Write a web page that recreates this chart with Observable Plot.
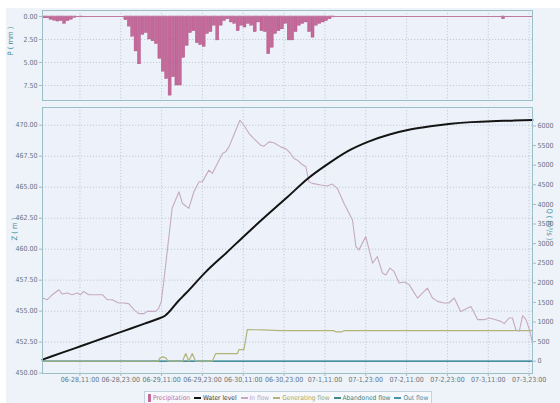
<!DOCTYPE html>
<html><head><meta charset="utf-8">
<script src="https://cdn.jsdelivr.net/npm/d3@7"></script>
<script src="https://cdn.jsdelivr.net/npm/@observablehq/plot@0.6"></script>
<style>
html,body{margin:0;padding:0;background:#fff;}
body{width:560px;height:403px;overflow:hidden;position:relative;font-family:"Liberation Sans Narrow","DejaVu Sans Condensed",sans-serif;}
#bg{position:absolute;left:6px;top:8px;width:554px;height:395px;background:#eef3f9;}
#topc{position:absolute;left:0;top:0;}
#botc{position:absolute;left:0;top:104px;}
#legend{position:absolute;left:144px;top:391px;height:14px;padding:0 3px;border:1px solid #c3d2dc;background:#f6f8fb;
  display:flex;align-items:center;font-size:6.6px;white-space:nowrap;box-sizing:border-box;}
#legend .it{display:flex;align-items:center;margin-right:4px;}
#legend .ln{display:inline-block;width:7px;height:2px;margin-right:2px;}
#legend .bx{display:inline-block;width:3px;height:8px;margin-right:2px;}
</style></head>
<body>
<div id="bg"></div>
<div id="topc"></div>
<div id="botc"></div>
<div id="legend"></div>
<script>
// ---------- data ----------
const xTickLabels = ["06-28,11:00","06-28,23:00","06-29,11:00","06-29,23:00","06-30,11:00","06-30,23:00",
  "07-1,11:00","07-1,23:00","07-2,11:00","07-2,23:00","07-3,11:00","07-3,23:00"];
const pTicks = [0, 2.5, 5, 7.5];
const zTicks = [450, 452.5, 455, 457.5, 460, 462.5, 465, 467.5, 470];
const qTicks = [0,500,1000,1500,2000,2500,3000,3500,4000,4500,5000,5500,6000];

// hours after 06-28 00:00
const precipHour = [0,1,2,3,4,5,6,7,8,9,11,
  24,25,26,27,28,29,30,31,32,33,34,35,36,37,38,39,40,41,42,43,44,45,46,47,48,49,50,51,52,53,54,
  55,56,57,58,59,60,61,62,63,64,65,66,67,68,69,70,71,72,73,74,75,76,77,78,79,80,81,82,83,84,85,135];
const precipMm = [0.2,0.2,0.35,0.45,0.55,0.5,0.8,0.5,0.35,0.15,0.1,
  0.4,1.1,2.2,3.8,5.2,2.0,1.8,2.5,2.7,3.0,4.6,6.0,6.8,8.6,6.6,7.5,7.5,4.5,3.2,1.8,1.6,2.9,3.1,3.3,1.9,1.7,1.0,2.6,1.0,0.5,0.3,
  0.65,0.8,1.6,1.0,1.2,0.8,1.0,1.7,0.65,1.6,1.7,4.1,3.4,1.9,1.6,1.4,0.8,2.6,2.6,1.7,1.0,0.8,0.65,1.7,2.3,1.0,0.8,0.65,0.5,0.3,0.1,0.3];

const levelHour = [0,6,12,18,24,30,34,36,40,42,48,54,60,66,72,78,84,90,96,102,108,114,120,126,132,138,144];
const levelM = [451.09,451.67,452.25,452.83,453.41,453.99,454.39,454.63,455.84,456.40,458.17,459.70,461.25,462.75,464.21,465.70,466.90,467.95,468.70,469.25,469.65,469.92,470.12,470.25,470.33,470.37,470.42];

const inflowHour = [0,1.4,2.9,4.8,5.8,7.3,8.7,10.2,11.2,12.1,13.6,17.6,19,20.5,22.4,23.9,25.3,26.9,28.3,29.8,30.8,33.2,34.2,34.9,35.7,36.7,38.1,40.1,41.1,43,44.5,46,47,48.9,49.9,51.4,52.9,53.8,54.8,56.8,58,59.2,60.7,62.1,64.1,65.1,66.6,68,70,71.5,72.9,73.9,74.9,75.9,77.4,78.3,79.3,81.8,83.7,85.2,86.7,88.6,91.1,92.1,93,95,97,98.4,99.9,100.9,102.1,103.3,104.8,106.3,107.7,110.2,113.1,114.6,116.1,118,119.4,121,122.9,125.9,127.9,129.8,131.3,133.2,134.7,135.7,137.1,138.1,139.1,140.1,141.1,142.1,143.1,144];
const inflowQ = [1612,1569,1696,1823,1713,1739,1696,1739,1696,1780,1696,1696,1569,1569,1485,1485,1470,1315,1213,1213,1271,1271,1357,1526,2077,2840,3900,4322,4028,3900,4322,4577,4577,4874,4789,5044,5298,5340,5467,5892,6146,6018,5807,5680,5510,5485,5594,5570,5467,5420,5298,5171,5128,5044,4958,4577,4536,4493,4468,4518,4400,4028,3603,2924,2840,3178,2502,2670,2248,2200,2375,2290,1993,2020,1960,1612,1866,1612,1526,1485,1485,1612,1271,1398,1060,1060,1103,1060,1017,958,1103,1103,806,763,1162,1060,806,468];

const genHour = [0,34.0,34.5,35.4,36.3,36.9,41.1,42.1,43.0,44.0,45.0,49.9,50.9,57.3,57.7,59.2,60.2,64.6,70,85.5,86.2,88,88.6,144];
const genQ = [0,0,80,110,80,0,0,196,0,196,0,0,196,196,297,297,806,800,780,780,750,750,780,780];

const abandonedHour = [0,144];
const abandonedQ = [0,0];
const outHour = [0,144];
const outQ = [0,0];

// ---------- helpers ----------
const t0 = Date.UTC(2020,5,28,0);
const H = h => new Date(t0 + h*3600e3);
function parseLabel(s){
  const [md, hm] = s.split(",");
  const [m, d] = md.split("-").map(Number);
  return new Date(Date.UTC(2020, m-1, d, +hm.split(":")[0]));
}
const xTickDates = xTickLabels.map(parseLabel);
const fmtX = d => `${String(d.getUTCMonth()+1).padStart(2,"0")}-${d.getUTCDate()},${String(d.getUTCHours()).padStart(2,"0")}:00`;
const Z0 = 450.96, K = 0.0031633;          // right-axis (Q) to left-axis (Z) mapping
const q2z = q => Z0 + q*K;
const z2q = z => (z - Z0)/K;

const precip = precipHour.map((h,i)=>({t1:H(h), t2:H(h+1), p:precipMm[i]}));
const level = levelHour.map((h,i)=>({t:H(h), z:levelM[i]}));
const inflow = inflowHour.map((h,i)=>({t:H(h), q:inflowQ[i]}));
const gen = genHour.map((h,i)=>({t:H(h), q:genQ[i]}));
const aband = abandonedHour.map((h,i)=>({t:H(h), q:abandonedQ[i]}));
const outf = outHour.map((h,i)=>({t:H(h), q:outQ[i]}));

const xDomain = [H(0), H(144)];
const FONT = '"Liberation Sans Narrow","DejaVu Sans Condensed",sans-serif';
const grid = {stroke:"#b7c2ce", strokeDasharray:"1.2,1.8", strokeWidth:0.8};
const frameStroke = "#9cbfc7";
const tickText = "#66747d";
const titleCol = "#3f8d98";
const C = {precip:"#c4699a", level:"#141414", inflow:"#c6a9c3", gen:"#b2b57a", aband:"#3c8a8a", out:"#4a93a8"};

// ---------- top: precipitation ----------
const topPlot = Plot.plot({
  width:560, height:104, marginLeft:42, marginRight:28, marginTop:10, marginBottom:4,
  style:{background:"transparent", fontFamily:FONT, fontSize:"7px"},
  x:{type:"utc", domain:xDomain, axis:null, label:null},
  y:{domain:[9.13,-0.65], label:null},
  marks:[
    Plot.frame({fill:"#edf2fa"}),
    Plot.ruleX(xTickDates, grid),
    Plot.ruleY([2.5,5,7.5], grid),
    Plot.rect(precip, {x1:"t1", x2:"t2", y1:0, y2:"p", fill:C.precip, stroke:"#ab4f80", strokeWidth:0.4, insetLeft:0.2, insetRight:0.2}),
    Plot.ruleY([0], {stroke:"#c07aa0", strokeWidth:1.2}),
    Plot.axisY(pTicks, {tickFormat:d=>d.toFixed(2), tickSize:3, tickPadding:2, stroke:frameStroke, fill:tickText, fontSize:7}),
    Plot.frame({stroke:frameStroke}),
    Plot.text(["P ( mm )"], {frameAnchor:"left", dx:-32, rotate:-90, fill:titleCol, fontSize:7.5})
  ]
});
document.getElementById("topc").append(topPlot);

// ---------- bottom: water level & flows ----------
const botPlot = Plot.plot({
  width:560, height:284, marginLeft:42, marginRight:28, marginTop:3, marginBottom:15,
  style:{background:"transparent", fontFamily:FONT, fontSize:"7px"},
  x:{type:"utc", domain:xDomain, label:null},
  y:{domain:[449.97,471.43], label:null},
  marks:[
    Plot.frame({fill:"#edf2fa"}),
    Plot.ruleX(xTickDates, grid),
    Plot.ruleY(zTicks.filter(z=>z>450), grid),
    Plot.line(aband, {x:"t", y:d=>q2z(d.q), stroke:C.aband, strokeWidth:1.6}),
    Plot.line(outf, {x:"t", y:d=>q2z(d.q), stroke:C.out, strokeWidth:1}),
    Plot.line(gen, {x:"t", y:d=>q2z(d.q), stroke:C.gen, strokeWidth:1.2}),
    Plot.line(inflow, {x:"t", y:d=>q2z(d.q), stroke:C.inflow, strokeWidth:1.1}),
    Plot.line(level, {x:"t", y:"z", stroke:C.level, strokeWidth:2, curve:"monotone-x"}),
    Plot.axisX(xTickDates, {tickFormat:fmtX, tickSize:3, tickPadding:1, stroke:frameStroke, fill:tickText, fontSize:7}),
    Plot.axisY(zTicks, {tickFormat:d=>d.toFixed(2), tickSize:3, tickPadding:2, stroke:frameStroke, fill:tickText, fontSize:7}),
    Plot.axisY(qTicks.map(q2z), {anchor:"right", tickFormat:z=>String(Math.round(z2q(z))), tickSize:3, tickPadding:2, stroke:frameStroke, fill:tickText, fontSize:7}),
    Plot.frame({stroke:frameStroke}),
    Plot.text(["Z ( m )"], {frameAnchor:"left", dx:-28, rotate:-90, fill:titleCol, fontSize:7.5}),
    Plot.text(["Q ( m³/s )"], {frameAnchor:"right", dx:17, rotate:90, fill:titleCol, fontSize:7.5})
  ]
});
document.getElementById("botc").append(botPlot);

// ---------- legend ----------
const legendItems = [
  {name:"Precipitation", type:"box", color:C.precip, text:"#c4699a"},
  {name:"Water level", type:"line", color:C.level, text:"#333"},
  {name:"In flow", type:"line", color:C.inflow, text:"#c0a2bd"},
  {name:"Generating flow", type:"line", color:C.gen, text:"#a3a866"},
  {name:"Abandoned flow", type:"line", color:C.aband, text:"#3c8484"},
  {name:"Out flow", type:"line", color:C.out, text:"#3f8ea5"}
];
const lg = document.getElementById("legend");
legendItems.forEach((it,i)=>{
  const s = document.createElement("span"); s.className="it";
  if (i===legendItems.length-1) s.style.marginRight="0";
  const sw = document.createElement("span");
  sw.className = it.type==="box" ? "bx" : "ln";
  sw.style.background = it.color;
  const tx = document.createElement("span"); tx.textContent = it.name; tx.style.color = it.text;
  s.append(sw, tx); lg.append(s);
});
</script>
</body></html>
